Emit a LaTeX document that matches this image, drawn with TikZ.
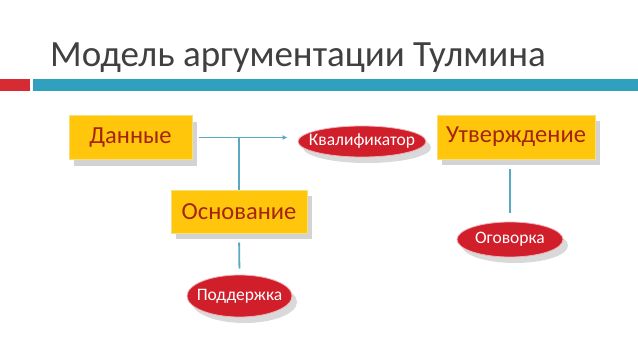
\documentclass[tikz,border=0pt]{standalone}
\usepackage{fontspec}
\setmainfont{Carlito}
\usetikzlibrary{arrows.meta,positioning,shapes.geometric,shadows}
\definecolor{titlegray}{HTML}{404040}
\definecolor{barred}{HTML}{D62B32}
\definecolor{barblue}{HTML}{31A0BE}
\definecolor{boxyellow}{HTML}{FFC60B}
\definecolor{boxedge}{HTML}{F3E07A}
\definecolor{boxtext}{HTML}{A3240F}
\definecolor{ovalred}{HTML}{D01E2B}
\definecolor{linkblue}{HTML}{5AA9C2}
\begin{document}
\begin{tikzpicture}[x=1pt,y=-1pt,
      box/.style={draw=boxedge, line width=1pt, fill=boxyellow, text=boxtext,
        minimum height=44pt, align=center, font=\fontsize{24.5}{27}\selectfont,
        drop shadow={opacity=0.35, shadow xshift=5pt, shadow yshift=-6pt}},
      oval/.style={draw=white!65!ovalred, line width=0.8pt, ellipse, fill=ovalred, text=white,
        inner xsep=-20pt, inner ysep=0pt, font=\fontsize{17.5}{20}\selectfont,
        drop shadow={opacity=0.3, shadow xshift=5pt, shadow yshift=-6pt}},
      link/.style={draw=linkblue, line width=1.8pt}
    ]
      \useasboundingbox (0,0) rectangle (638,359);
      % title and rule
      \node[anchor=base west, text=titlegray, font=\fontsize{37}{42}\selectfont, inner sep=0pt]
        (title) at (50,66) {Модель аргументации Тулмина};
      \fill[barred] (0,79) rectangle (30,91);
      \fill[barblue] (33,79) rectangle (638,91);

      % boxes
      \node[box, minimum width=123pt] (data) at (130.5,137.5) {Данные};
      \node[box, minimum width=158pt] (claim) at (516,137) {Утверждение};
      \node[box, minimum width=136pt, minimum height=43pt] (ground) at (239,211.5) {Основание};

      % ovals
      \node[oval, minimum width=128pt, minimum height=31pt] (qual) at (362,141.5) {Квалификатор};
      \node[oval, minimum width=106pt, minimum height=35pt] (rebut) at (510,239.5) {Оговорка};
      \node[oval, minimum width=105pt, minimum height=42pt] (backing) at (239.5,296) {Поддержка};

      % connectors
      \draw[link, -{Latex[length=5pt,width=5pt]}, shorten <=6pt, shorten >=10pt]
        (data.east) -- (data.east -| qual.west);
      \draw[link] (ground.north) -- (ground.north |- data.east);
      \draw[link, shorten <=9pt, shorten >=6pt] (ground.south) -- (backing.north);
      \draw[link, shorten <=9pt, shorten >=9pt] (rebut.north |- claim.south) -- (rebut.north);
    \end{tikzpicture}
\end{document}
